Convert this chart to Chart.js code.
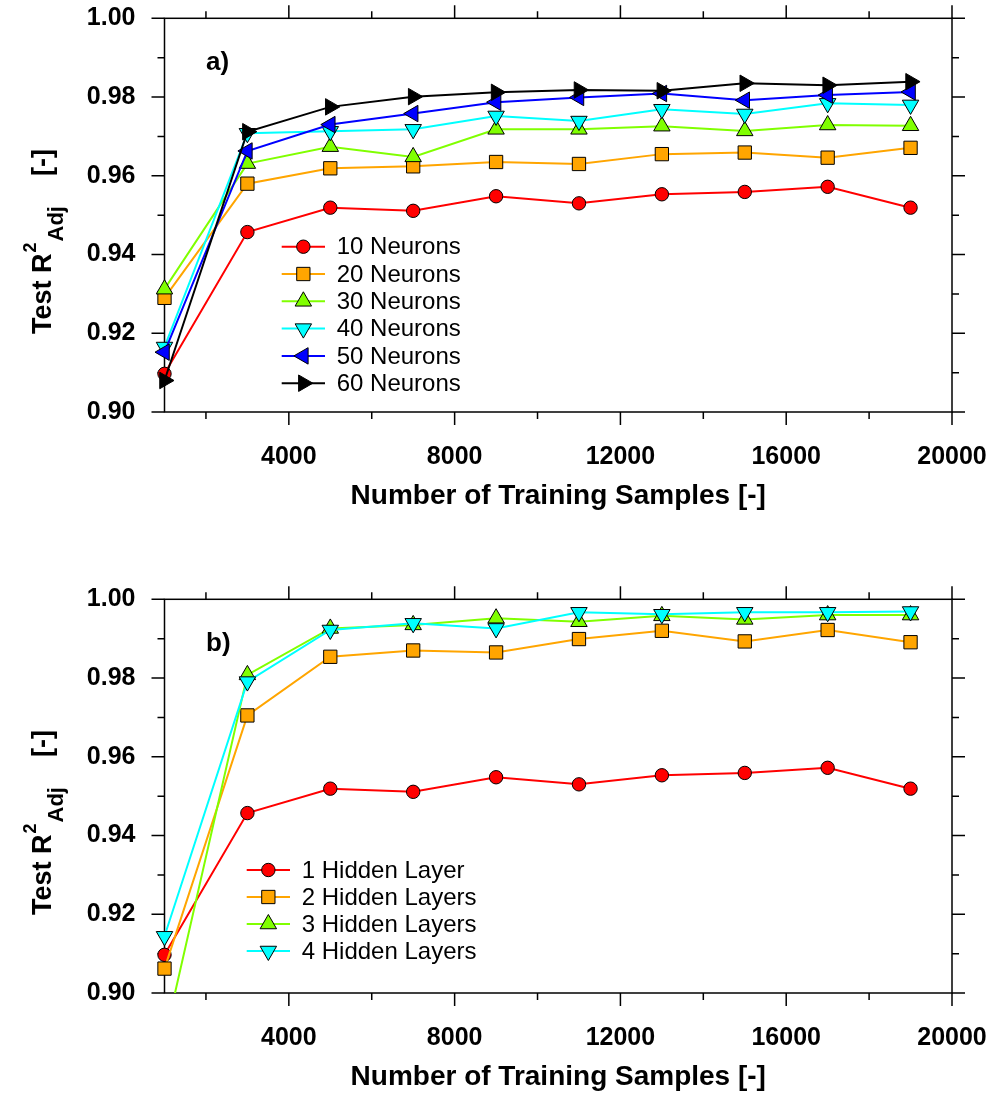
<!DOCTYPE html>
<html>
<head>
<meta charset="utf-8">
<script src="https://cdn.jsdelivr.net/npm/chart.js@4.4.0/dist/chart.umd.min.js"></script>
<style>
  html, body { margin: 0; padding: 0; background: #fff; overflow: hidden; }
  canvas { position: absolute; left: 0; }
  #chartA { top: 0; }
  #chartB { top: 581px; }
</style>
</head>
<body>
<canvas id="chartA" width="997" height="548"></canvas>
<canvas id="chartB" width="997" height="516"></canvas>
<script>
// x values shared by every series
const samples = [1000, 3000, 5000, 7000, 9000, 11000, 13000, 15000, 17000, 19000];

// panel a) - one hidden layer, varying neurons
const neurons10 = [0.9097, 0.9457, 0.9519, 0.9511, 0.9548, 0.9530, 0.9553, 0.9559, 0.9572, 0.9519];
const neurons20 = [0.9290, 0.9580, 0.9619, 0.9624, 0.9635, 0.9630, 0.9655, 0.9659, 0.9646, 0.9671];
const neurons30 = [0.9312, 0.9631, 0.9674, 0.9648, 0.9718, 0.9718, 0.9726, 0.9714, 0.9729, 0.9727];
const neurons40 = [0.9165, 0.9708, 0.9713, 0.9718, 0.9752, 0.9739, 0.9769, 0.9757, 0.9784, 0.9780];
const neurons50 = [0.9152, 0.9663, 0.9730, 0.9758, 0.9787, 0.9799, 0.9809, 0.9792, 0.9805, 0.9813];
const neurons60 = [0.9080, 0.9712, 0.9775, 0.9801, 0.9812, 0.9818, 0.9816, 0.9835, 0.9830, 0.9839];
const neuronLabels = ['10 Neurons', '20 Neurons', '30 Neurons', '40 Neurons', '50 Neurons', '60 Neurons'];

// panel b) - varying hidden layers
const layers1 = [0.9097, 0.9457, 0.9519, 0.9511, 0.9548, 0.9530, 0.9553, 0.9559, 0.9572, 0.9519];
const layers2 = [0.9062, 0.9705, 0.9854, 0.9870, 0.9865, 0.9899, 0.9920, 0.9893, 0.9922, 0.9891];
const layers3 = [0.8883, 0.9808, 0.9926, 0.9935, 0.9952, 0.9943, 0.9958, 0.9949, 0.9960, 0.9960];
const layers4 = [0.9144, 0.9791, 0.9922, 0.9939, 0.9926, 0.9967, 0.9962, 0.9967, 0.9967, 0.9969];
const layerLabels = ['1 Hidden Layer', '2 Hidden Layers', '3 Hidden Layers', '4 Hidden Layers'];

// axis ticks
const xMajor = [4000, 8000, 12000, 16000, 20000];
const xMinor = [2000, 6000, 10000, 14000, 18000];
const yMajor = [0.90, 0.92, 0.94, 0.96, 0.98, 1.00];
const yMinor = [0.91, 0.93, 0.95, 0.97, 0.99];

const seriesStyles = [
    { color: '#ff0000', shape: 'circle', rot: 0, r: 6.7 },
    { color: '#ffa500', shape: 'rect', rot: 0, r: 9.4 },
    { color: '#80ff00', shape: 'triangle', rot: 0, r: 9.5 },
    { color: '#00ffff', shape: 'triangle', rot: 180, r: 9.5 },
    { color: '#0000ff', shape: 'triangle', rot: 270, r: 9.5 },
    { color: '#000000', shape: 'triangle', rot: 90, r: 9.5 }
];

const FONT = "'Liberation Sans', Arial, Helvetica, sans-serif";
Chart.defaults.font.family = FONT;
Chart.defaults.color = '#000';

function drawMarker(ctx, st, x, y) {
    ctx.beginPath();
    if (st.shape === 'circle') {
        ctx.arc(x, y, st.r, 0, Math.PI * 2);
    } else if (st.shape === 'rect') {
        const s = st.r * Math.SQRT1_2;
        ctx.rect(x - s, y - s, 2 * s, 2 * s);
    } else {
        let a = st.rot * Math.PI / 180;
        ctx.moveTo(x + Math.sin(a) * st.r, y - Math.cos(a) * st.r);
        a += 2 * Math.PI / 3;
        ctx.lineTo(x + Math.sin(a) * st.r, y - Math.cos(a) * st.r);
        a += 2 * Math.PI / 3;
        ctx.lineTo(x + Math.sin(a) * st.r, y - Math.cos(a) * st.r);
        ctx.closePath();
    }
    ctx.fillStyle = st.color;
    ctx.fill();
    ctx.lineWidth = 1;
    ctx.strokeStyle = '#000';
    ctx.stroke();
}

// box, outward ticks, y title, panel tag and inline legend
const panelDeco = {
    id: 'panelDeco',
    beforeDatasetsDraw(chart) {
        const { ctx, chartArea: a, scales: { x, y } } = chart;
        ctx.save();
        ctx.strokeStyle = '#000';
        ctx.lineWidth = 1.5;
        ctx.strokeRect(a.left, a.top, a.right - a.left, a.bottom - a.top);
        ctx.beginPath();
        const xt = (v, len) => {
            const p = x.getPixelForValue(v);
            ctx.moveTo(p, a.bottom); ctx.lineTo(p, a.bottom + len);
            ctx.moveTo(p, a.top); ctx.lineTo(p, a.top - len);
        };
        const yt = (v, len) => {
            const p = y.getPixelForValue(v);
            ctx.moveTo(a.left, p); ctx.lineTo(a.left - len, p);
            ctx.moveTo(a.right, p); ctx.lineTo(a.right + len, p);
        };
        xMajor.forEach(v => xt(v, 13));
        xMinor.forEach(v => xt(v, 7));
        yMajor.forEach(v => yt(v, 13));
        yMinor.forEach(v => yt(v, 7));
        ctx.stroke();
        ctx.restore();
    },
    afterDraw(chart, args, opts) {
        const ctx = chart.ctx;
        ctx.save();
        ctx.fillStyle = '#000';

        // y axis title with superscript and subscript
        ctx.translate(51, 0);
        ctx.rotate(-Math.PI / 2);
        ctx.textBaseline = 'alphabetic';
        ctx.textAlign = 'left';
        ctx.font = 'bold 27px ' + FONT;
        ctx.fillText('Test R', -334, 0);
        let u = -334 + ctx.measureText('Test R').width + 1;
        ctx.font = 'bold 18px ' + FONT;
        ctx.fillText('2', u, -15);
        u += ctx.measureText('2').width + 1;
        ctx.font = 'bold 22px ' + FONT;
        ctx.fillText('Adj', u, 12);
        ctx.font = 'bold 27px ' + FONT;
        ctx.fillText('[-]', -176, 0);
        ctx.restore();

        // panel tag
        ctx.save();
        ctx.fillStyle = '#000';
        ctx.font = 'bold 26px ' + FONT;
        ctx.textBaseline = 'alphabetic';
        ctx.fillText(opts.tag, 206, 70);

        // legend
        const lg = opts.legend;
        ctx.font = '24px ' + FONT;
        ctx.textBaseline = 'middle';
        chart.data.datasets.forEach((ds, i) => {
            const ry = lg.y0 + i * lg.step;
            const st = seriesStyles[i];
            ctx.beginPath();
            ctx.moveTo(lg.x0, ry);
            ctx.lineTo(lg.x1, ry);
            ctx.strokeStyle = st.color;
            ctx.lineWidth = 2;
            ctx.stroke();
            drawMarker(ctx, st, (lg.x0 + lg.x1) / 2, ry);
            ctx.fillStyle = '#000';
            ctx.fillText(ds.label, lg.tx, ry + 1);
        });
        ctx.restore();
    }
};

function buildChart(id, height, seriesList, labels, tag, legend) {
    const datasets = seriesList.map((vals, i) => {
        const st = seriesStyles[i];
        return {
            label: labels[i],
            data: samples.map((s, k) => ({ x: s, y: vals[k] })),
            borderColor: st.color,
            backgroundColor: st.color,
            pointBackgroundColor: st.color,
            pointBorderColor: '#000',
            pointBorderWidth: 1,
            pointStyle: st.shape,
            pointRotation: st.rot,
            pointRadius: st.r,
            borderWidth: 2,
            tension: 0,
            order: seriesList.length - i,
            clip: { left: 14, right: 14, top: 14, bottom: 0 }
        };
    });

    return new Chart(document.getElementById(id), {
        type: 'line',
        data: { datasets },
        options: {
            responsive: false,
            animation: false,
            events: [],
            devicePixelRatio: 1,
            layout: { padding: { top: 18.3, right: 45, left: 0, bottom: 0 } },
            scales: {
                x: {
                    type: 'linear',
                    min: 1000,
                    max: 20000,
                    grid: { display: false },
                    border: { display: false },
                    afterBuildTicks: s => { s.ticks = xMajor.map(v => ({ value: v })); },
                    afterFit: s => {
                        s.height = height - 412;
                        s.paddingLeft = 0;
                        s.paddingRight = 0;
                    },
                    ticks: {
                        autoSkip: false,
                        maxRotation: 0,
                        padding: 22,
                        font: { size: 25, weight: 'bold' },
                        callback: v => String(v)
                    },
                    title: {
                        display: true,
                        text: 'Number of Training Samples [-]',
                        font: { size: 28, weight: 'bold' },
                        padding: { top: 0, bottom: height - 512.8 }
                    }
                },
                y: {
                    type: 'linear',
                    min: 0.90,
                    max: 1.00,
                    grid: { display: false },
                    border: { display: false },
                    afterBuildTicks: s => { s.ticks = yMajor.map(v => ({ value: v })); },
                    afterFit: s => {
                        s.width = 164.5;
                        s.paddingTop = 0;
                        s.paddingBottom = 0;
                    },
                    ticks: {
                        autoSkip: false,
                        padding: 21,
                        font: { size: 25, weight: 'bold' },
                        callback: v => Number(v).toFixed(2)
                    }
                }
            },
            plugins: {
                legend: { display: false },
                tooltip: { enabled: false },
                panelDeco: { tag, legend }
            }
        },
        plugins: [panelDeco]
    });
}

buildChart('chartA', 548,
    [neurons10, neurons20, neurons30, neurons40, neurons50, neurons60],
    neuronLabels, 'a)',
    { x0: 281.7, x1: 325, tx: 336.7, y0: 246.7, step: 27.3 });

buildChart('chartB', 516,
    [layers1, layers2, layers3, layers4],
    layerLabels, 'b)',
    { x0: 246.7, x1: 290, tx: 301.7, y0: 289, step: 27 });
</script>
</body>
</html>
